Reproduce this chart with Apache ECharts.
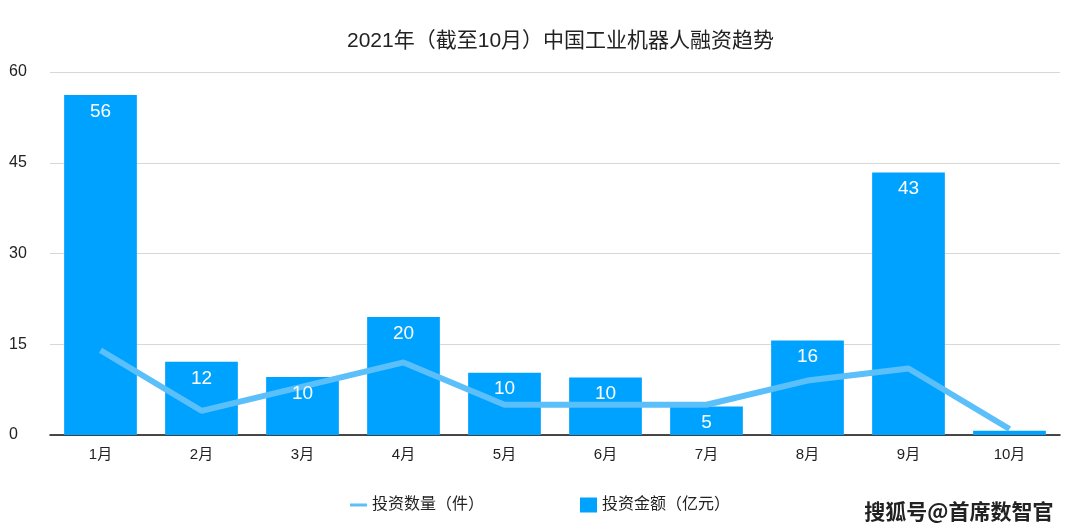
<!DOCTYPE html>
<html><head><meta charset="utf-8">
<script src="https://cdn.jsdelivr.net/npm/echarts@6/dist/echarts.min.js"></script>
<style>html,body{margin:0;padding:0;background:#fff}#c{width:1080px;height:532px}</style>
</head><body><div id="c"></div>
<script>
const titleText = '2021年（截至10月）中国工业机器人融资趋势';
const categories = ['1月','2月','3月','4月','5月','6月','7月','8月','9月','10月'];
const amount = [56.2, 12.1, 9.6, 19.5, 10.3, 9.5, 4.7, 15.6, 43.4, 0.7];
const count = [14, 4, 8, 12, 5, 5, 5, 9, 11, 1];
const yTicks = [0, 15, 30, 45, 60];
const seriesNames = ['投资数量（件）', '投资金额（亿元）'];
const watermark = '搜狐号@首席数智官';

const font = '"Liberation Sans", "Noto Sans CJK SC", sans-serif';
const barLabel = {show: true, position: 'insideTop', color: '#fff', fontSize: 19, distance: 7,
  formatter: p => p.value >= 1 ? Math.round(p.value) : ''};
const chart = echarts.init(document.getElementById('c'));
chart.setOption({
  animation: false,
  textStyle: {fontFamily: font},
  title: {text: titleText, left: 342, top: 26, textStyle: {fontSize: 21, fontWeight: 'normal', color: '#222', fontFamily: font}},
  legend: {
    bottom: 14, left: 'center', itemGap: 96, itemWidth: 17, itemHeight: 15,
    textStyle: {fontSize: 16, color: '#222', fontFamily: font},
    data: [
      {name: seriesNames[0], icon: 'path://M0,6 L17,6 L17,9 L0,9 Z', itemStyle: {color: '#5BBFFA'}},
      {name: seriesNames[1], icon: 'rect'}
    ]
  },
  graphic: [{type: 'text', right: 26, bottom: 10, style: {text: watermark, fontSize: 21, fontWeight: 'bold', fill: '#222', stroke: '#fff', lineWidth: 1, fontFamily: '"Noto Sans CJK SC", sans-serif'}}],
  grid: {left: 50, right: 20, top: 72, bottom: 97, containLabel: false},
  xAxis: {
    type: 'category', data: categories,
    axisLine: {lineStyle: {color: '#111', width: 1.5}},
    axisTick: {show: false},
    axisLabel: {fontSize: 15, color: '#222', margin: 12}
  },
  yAxis: {
    type: 'value', min: yTicks[0], max: yTicks[yTicks.length-1], interval: 15,
    axisLine: {show: false}, axisTick: {show: false},
    splitLine: {lineStyle: {color: '#d8d8d8'}},
    axisLabel: {fontSize: 16, color: '#222', align: 'left', margin: 41}
  },
  series: [
    {
      name: seriesNames[1], type: 'bar', data: amount, barCategoryGap: '28%',
      itemStyle: {color: '#00A2FF'}, z: 1, label: {show: false}
    },
    {
      name: seriesNames[0], type: 'line', data: count, symbol: 'none', z: 2,
      lineStyle: {color: '#5BBFFA', width: 6}, itemStyle: {color: '#5BBFFA'}
    },
    {
      name: 'labels', type: 'bar', data: amount, barGap: '-100%', barCategoryGap: '28%',
      itemStyle: {color: 'rgba(0,0,0,0)'}, z: 3, silent: true, label: barLabel, legendHoverLink: false
    }
  ]
});
</script></body></html>
